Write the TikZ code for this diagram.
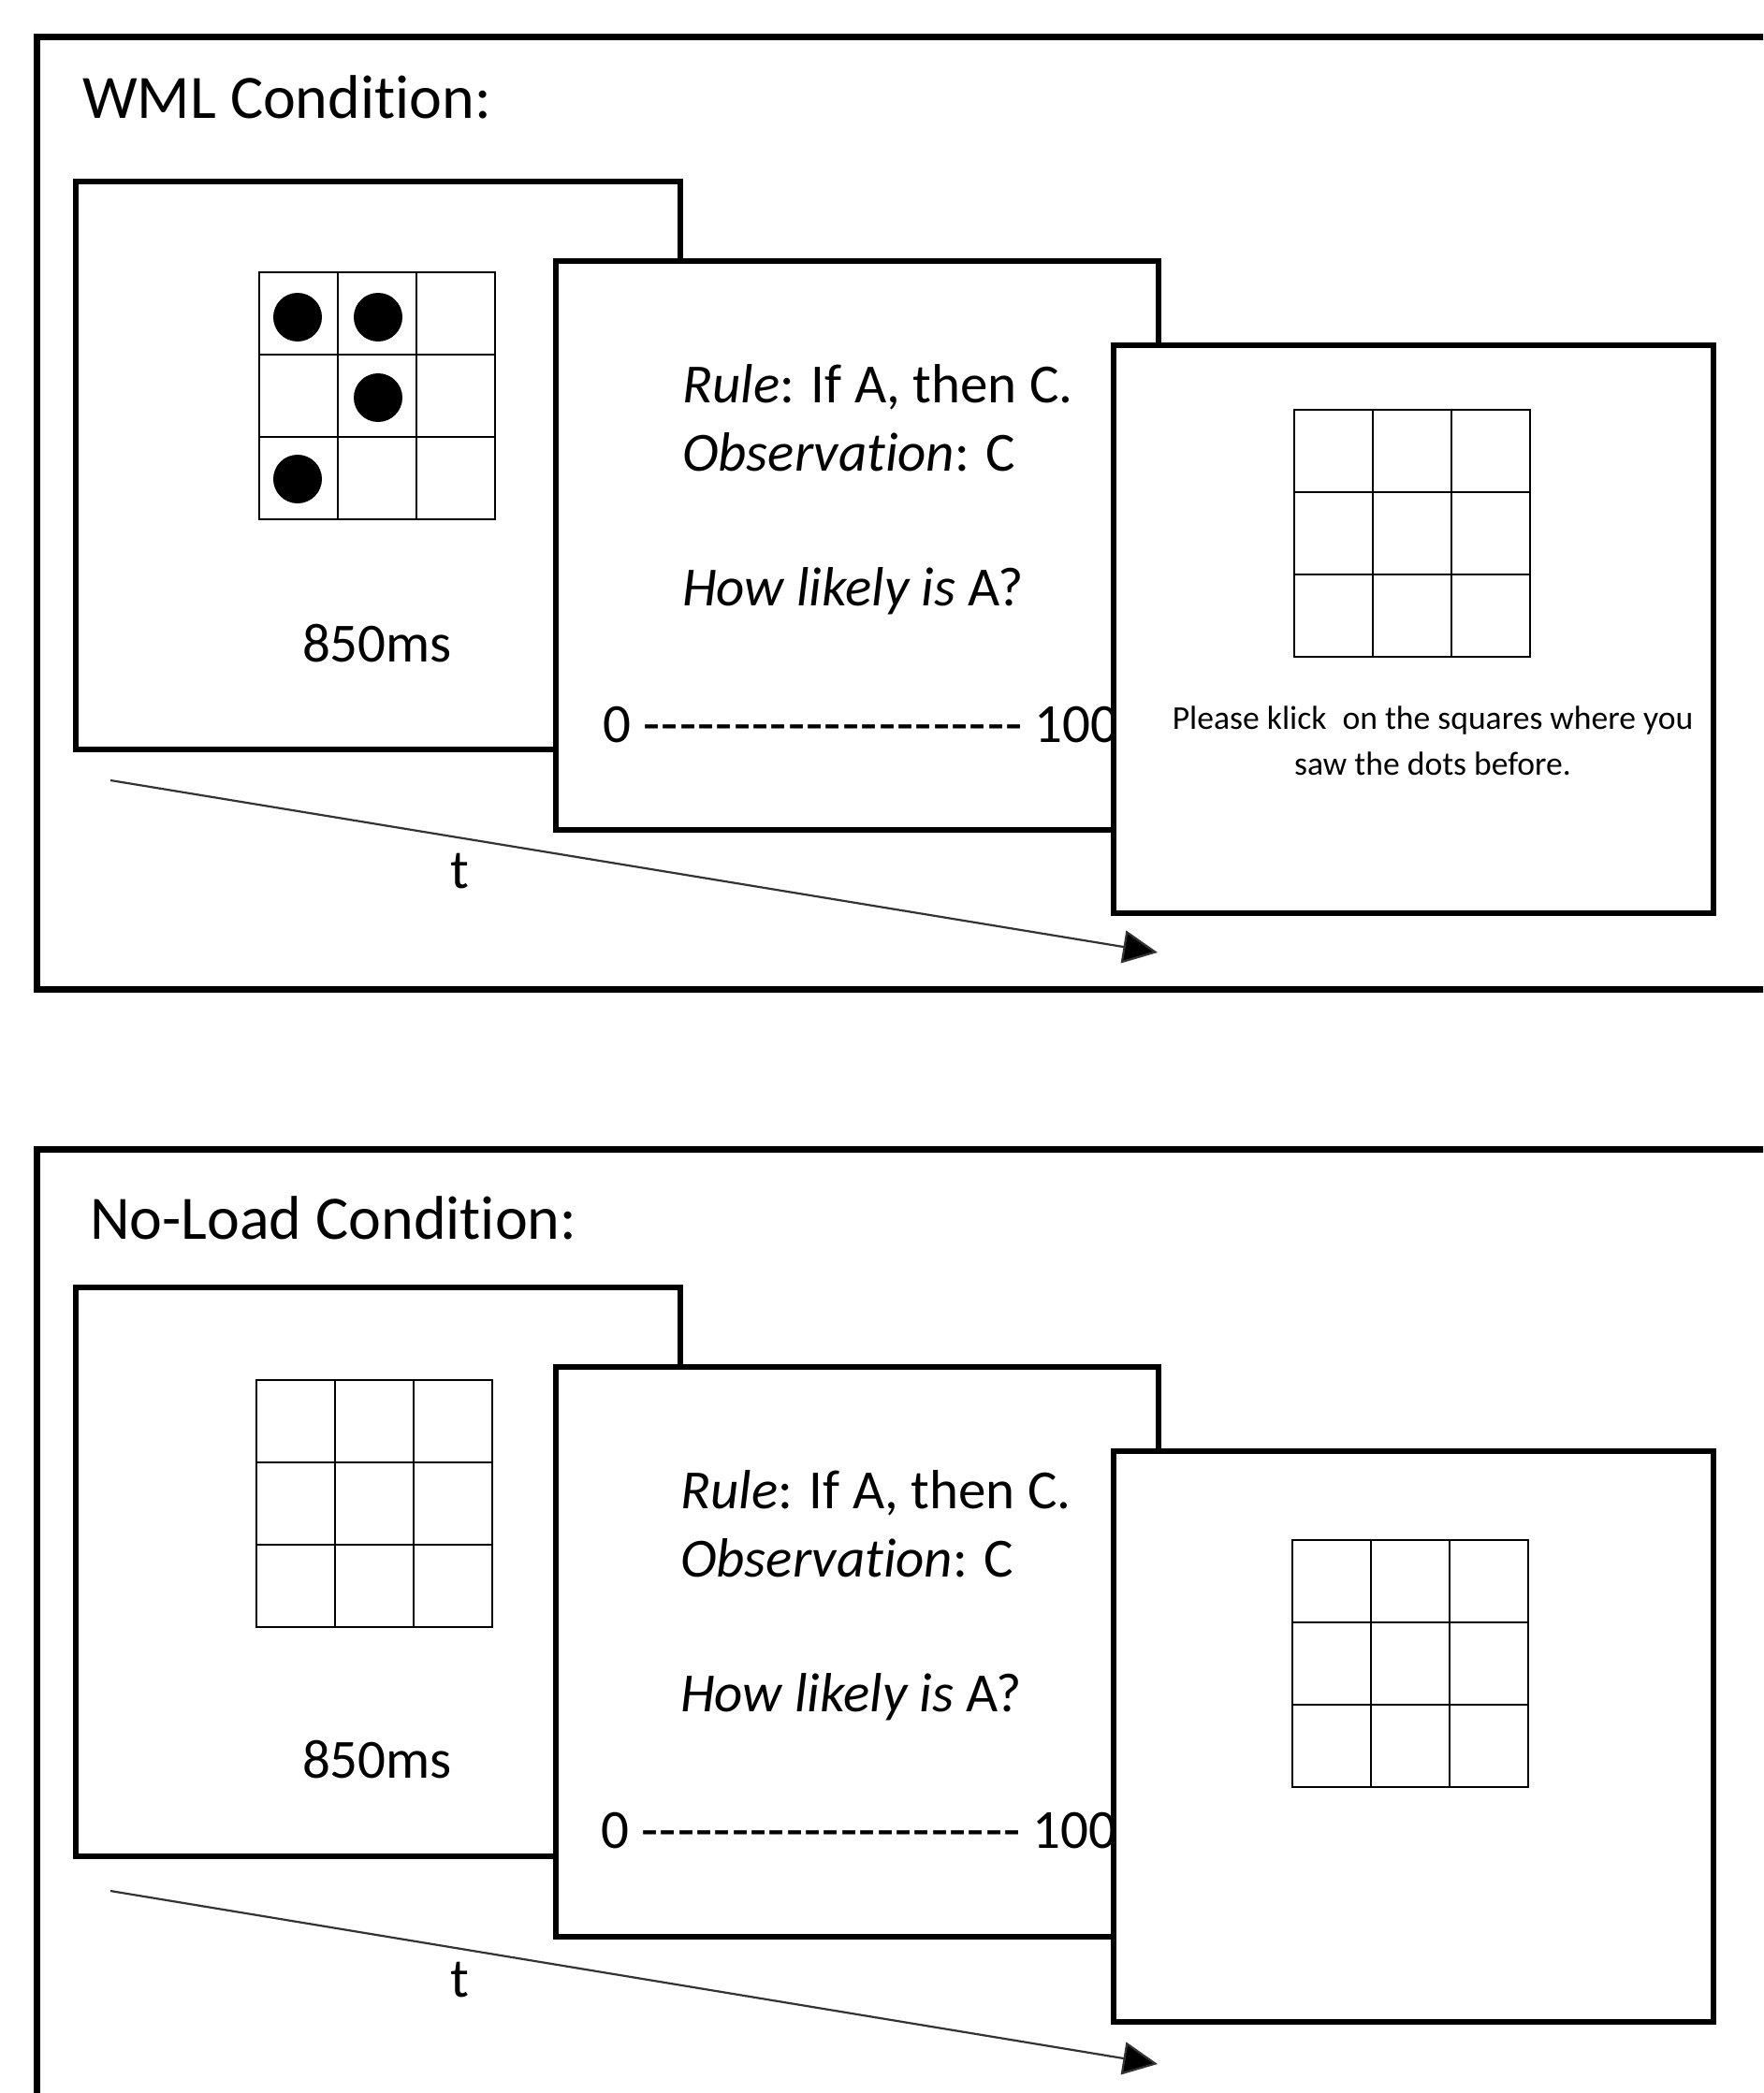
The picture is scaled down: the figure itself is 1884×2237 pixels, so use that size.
\documentclass[tikz,border=0pt]{standalone}
\usepackage{fontspec}
\setmainfont{Carlito}[Ligatures={TeXOff,NoCommon}]
\usetikzlibrary{arrows.meta}
\newcommand\scaledash{-\kern1.3pt}
\newcommand\scaleline{0 \scaledash\scaledash\scaledash\scaledash\scaledash\scaledash\scaledash\scaledash\scaledash\scaledash\scaledash\scaledash\scaledash\scaledash\scaledash\scaledash\scaledash\scaledash\scaledash\scaledash- 100}
\begin{document}
\begin{tikzpicture}[x=1pt,y=-1pt,
  frame/.style={line width=7pt},
  screen/.style={line width=6pt, fill=white},
  gridline/.style={line width=2pt},
  dotmark/.style={fill=black},
  title/.style={inner sep=0pt, anchor=base west, font=\fontsize{66}{78}\selectfont},
  body/.style={inner sep=0pt, anchor=base west, font=\fontsize{59}{70}\selectfont},
  bodyc/.style={inner sep=0pt, anchor=base, font=\fontsize{59}{70}\selectfont},
  small/.style={inner sep=0pt, anchor=base, font=\fontsize{35.6}{42}\selectfont},
  timearrow/.style={line width=2.2pt, black!80, -{Triangle[length=37pt,width=35pt,fill=black]}},
  ninegrid/.pic={
    \draw[gridline] (0,0) rectangle (252,264);
    \draw[gridline] (84,0) -- (84,264) (168,0) -- (168,264)
                    (0,88) -- (252,88) (0,176) -- (252,176);
  }
]
\useasboundingbox (0,0) rectangle (1884,2237);
\clip (0,0) rectangle (1884,2237);

% ================= top panel =================
\draw[frame] (1900,39.5) -- (39.5,39.5) -- (39.5,1057) -- (1900,1057);
\node[title] (t1) at (88,127) {WML Condition:};

\draw[screen] (81,194) rectangle (727,801);
\pic at (277,291) {ninegrid};
\fill[dotmark] (318,339) circle (26) (404,339) circle (26)
               (404,425) circle (26) (318,512) circle (26);
\node[bodyc] (ms1) at (403,707) {850ms};

\draw[screen] (594,279) rectangle (1238,887);
\node[body] (r1) at (729,430) {\textit{Rule}: If A, then C.};
\node[body] (o1) at (729,503) {\textit{Observation}: C};
\node[body] (h1) at (729,647) {\textit{How likely is} A?};
\node[body] (s1) at (644,793) {\scaleline};

\draw[screen] (1190,369) rectangle (1831,976);
\pic at (1383,438) {ninegrid};
\node[small] (p1) at (1531,779) {Please klick\hspace{0.25em} on the squares where you};
\node[small] (p2) at (1531,828) {saw the dots before.};

\coordinate (a1s) at (118,834);
\coordinate (a1e) at (1237,1018);
\draw[timearrow] (a1s) -- (a1e);
\node[bodyc] (tt1) at (491,949) {t};

% ================= bottom panel =================
\draw[frame] (1900,1228.5) -- (39.5,1228.5) -- (39.5,2300);
\node[title] (t2) at (96,1324) {No-Load Condition:};

\draw[screen] (81,1376) rectangle (727,1984);
\pic at (274,1475) {ninegrid};
\node[bodyc] (ms2) at (403,1900) {850ms};

\draw[screen] (594,1461) rectangle (1238,2070);
\node[body] (r2) at (727,1612) {\textit{Rule}: If A, then C.};
\node[body] (o2) at (727,1685) {\textit{Observation}: C};
\node[body] (h2) at (727,1829) {\textit{How likely is} A?};
\node[body] (s2) at (642,1975) {\scaleline};

\draw[screen] (1190,1551) rectangle (1831,2161);
\pic at (1381,1646) {ninegrid};

\coordinate (a2s) at (118,2021);
\coordinate (a2e) at (1237,2206);
\draw[timearrow] (a2s) -- (a2e);
\node[bodyc] (tt2) at (491,2134) {t};
\end{tikzpicture}
\end{document}
